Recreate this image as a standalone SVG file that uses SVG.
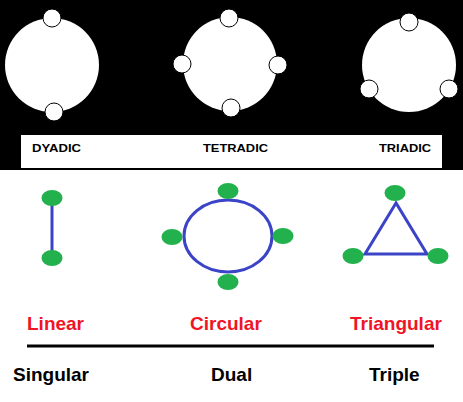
<svg xmlns="http://www.w3.org/2000/svg" width="463" height="402" viewBox="0 0 463 402">
<style>
.big{fill:#fff}
.sm{fill:#fff;stroke:#000;stroke-width:1}
.cap{font-family:"Liberation Sans",Arial,sans-serif;font-weight:bold;font-size:11.5px;fill:#000}
.red{font-family:"Liberation Sans",Arial,sans-serif;font-weight:bold;font-size:19px;fill:#f01426}
.blk{font-family:"Liberation Sans",Arial,sans-serif;font-weight:bold;font-size:19px;fill:#000}
.node{fill:#22b14c}
.edge{stroke:#3b44c6;stroke-width:3;fill:none}
</style>
<rect x="0" y="0" width="463" height="402" fill="#fff"/>
<rect x="0" y="0" width="463" height="170" fill="#000"/>
<rect x="21" y="135" width="421" height="33" fill="#fff"/>
<g id="dyadic">
<circle class="big" cx="52" cy="65" r="47"/>
<circle class="sm" cx="52" cy="18" r="9"/>
<circle class="sm" cx="54" cy="112" r="9"/>
<text class="cap" x="32" y="152" textLength="49" lengthAdjust="spacingAndGlyphs">DYADIC</text>
</g>
<g id="tetradic">
<circle class="big" cx="230" cy="64" r="47"/>
<circle class="sm" cx="229" cy="18" r="9"/>
<circle class="sm" cx="182" cy="64" r="9"/>
<circle class="sm" cx="278" cy="65" r="9"/>
<circle class="sm" cx="231" cy="108" r="9"/>
<text class="cap" x="203" y="152" textLength="65" lengthAdjust="spacingAndGlyphs">TETRADIC</text>
</g>
<g id="triadic">
<circle class="big" cx="409" cy="65" r="47"/>
<circle class="sm" cx="409" cy="22" r="9"/>
<circle class="sm" cx="369" cy="89" r="9"/>
<circle class="sm" cx="449" cy="89" r="9"/>
<text class="cap" x="379" y="152" textLength="52" lengthAdjust="spacingAndGlyphs">TRIADIC</text>
</g>
<g id="connectors">
<line class="edge" x1="52" y1="198" x2="52" y2="258"/>
<ellipse class="edge" cx="228" cy="236" rx="44" ry="36"/>
<polygon class="edge" points="396,203 365,254 427,254"/>
</g>
<g id="linear">
<ellipse class="node" cx="52" cy="198" rx="10.5" ry="8"/>
<ellipse class="node" cx="52" cy="258" rx="10.5" ry="8"/>
<text class="red" x="27" y="330">Linear</text>
</g>
<g id="circular">
<ellipse class="node" cx="228" cy="191" rx="10.5" ry="8"/>
<ellipse class="node" cx="172" cy="237" rx="10.5" ry="8"/>
<ellipse class="node" cx="283" cy="236" rx="10.5" ry="8"/>
<ellipse class="node" cx="228" cy="282" rx="10.5" ry="8"/>
<text class="red" x="190" y="330">Circular</text>
</g>
<g id="triangular">
<ellipse class="node" cx="395" cy="193" rx="10.5" ry="8"/>
<ellipse class="node" cx="353" cy="256" rx="10.5" ry="8"/>
<ellipse class="node" cx="438" cy="256" rx="10.5" ry="8"/>
<text class="red" x="350" y="330">Triangular</text>
</g>
<line x1="27" y1="346" x2="434" y2="346" stroke="#000" stroke-width="3"/>
<text class="blk" x="13" y="381">Singular</text>
<text class="blk" x="211" y="381">Dual</text>
<text class="blk" x="369" y="381">Triple</text>
</svg>
